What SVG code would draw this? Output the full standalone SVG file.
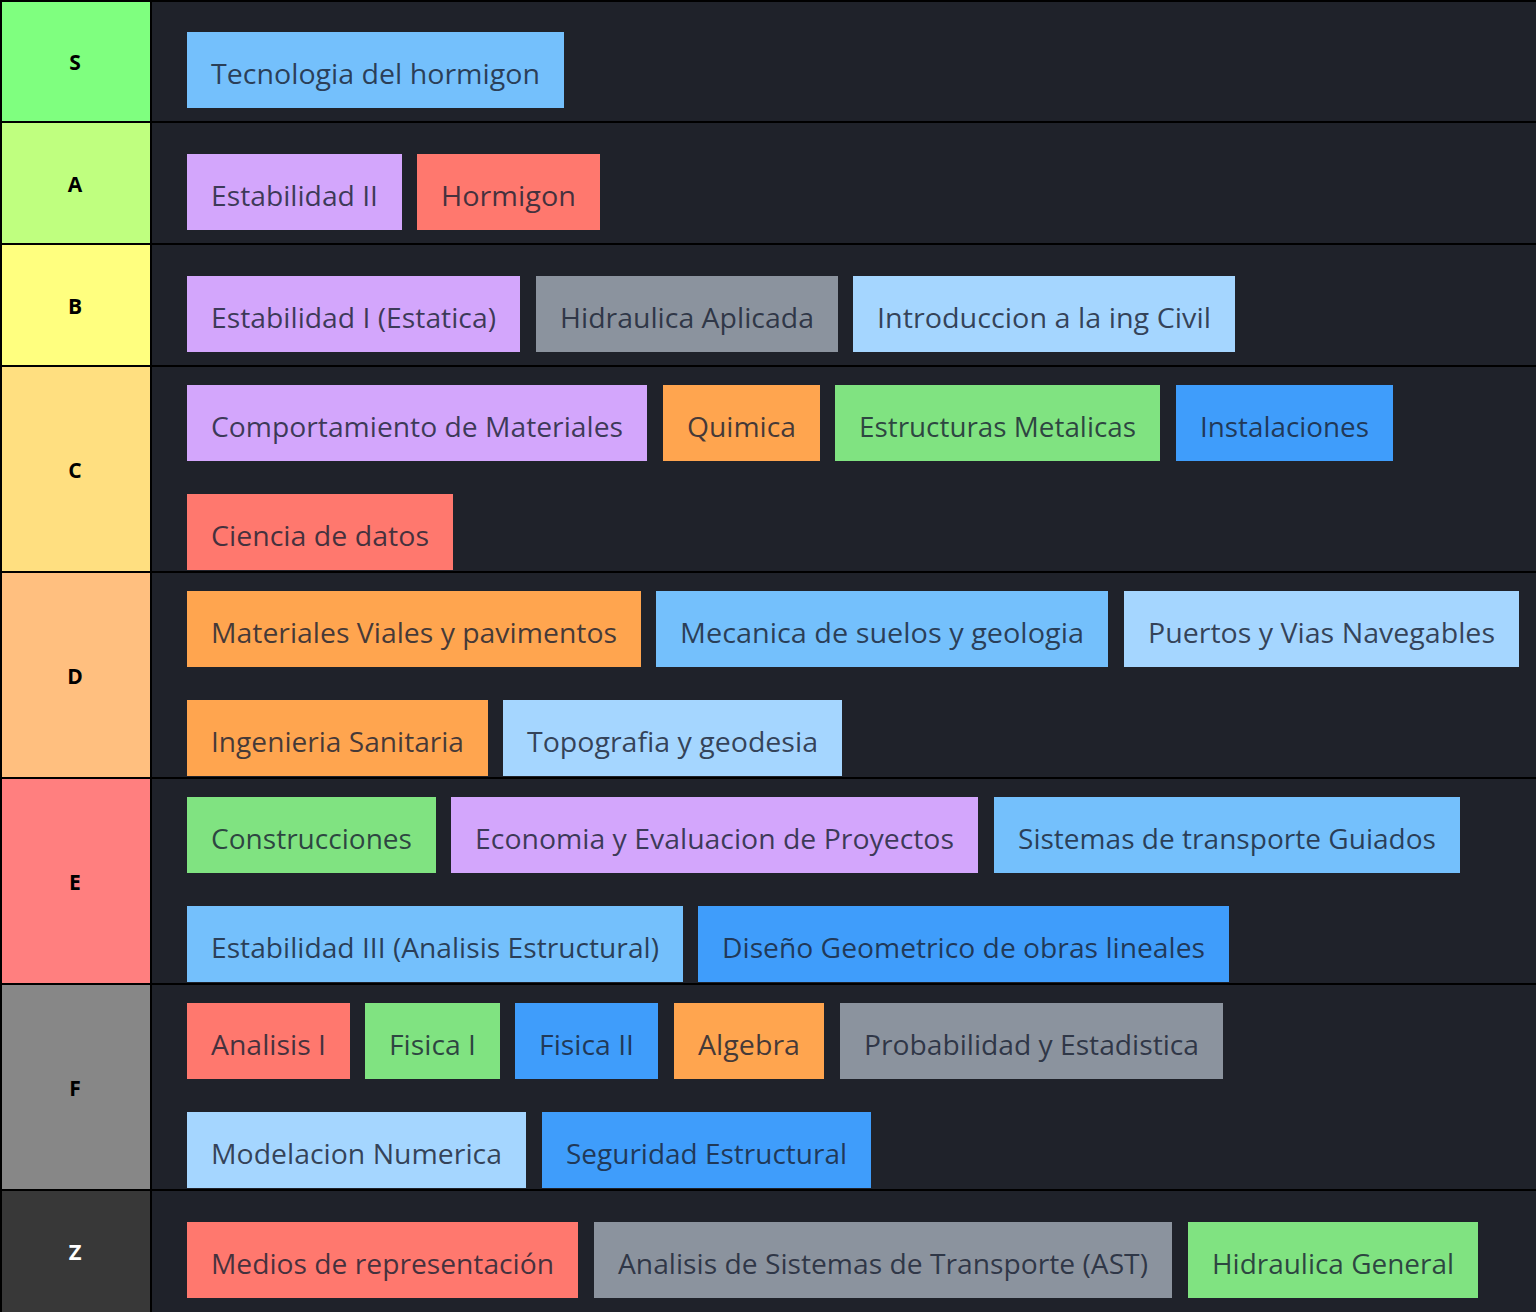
<svg xmlns="http://www.w3.org/2000/svg" width="1536" height="1312" viewBox="0 0 1536 1312">
<style>
.lab{font-family:"Open Sans","Noto Sans",sans-serif;font-weight:bold;font-size:21px;text-anchor:middle;dominant-baseline:central}
.it{font-family:"Open Sans","Noto Sans",sans-serif;font-size:28px;fill:#1a2233;fill-opacity:0.82}
.pu{fill:#d3a6fc}.re{fill:#ff786e}.gr{fill:#8b939e}.lb{fill:#74c0fc}.xb{fill:#a5d6ff}.or{fill:#ffa54f}.gn{fill:#80e381}.bl{fill:#3f9dfb}
.row{fill:#1f222a}
</style>
<rect x="0" y="0" width="1536" height="1312" fill="#000"/>
<g id="tier-S">
<rect x="2" y="2" width="148" height="119" fill="#7fff7f"/><rect class="row" x="152" y="2" width="1384" height="119"/>
<text class="lab" x="75" y="62" fill="#000">S</text>
<g id="item-tecnologia"><rect class="lb" x="187" y="32" width="377" height="76"/><text class="it" x="211" y="84" textLength="329" lengthAdjust="spacingAndGlyphs">Tecnologia del hormigon</text></g>
</g>
<g id="tier-A">
<rect x="2" y="123" width="148" height="120" fill="#bfff7f"/><rect class="row" x="152" y="123" width="1384" height="120"/>
<text class="lab" x="75" y="184" fill="#000">A</text>
<g id="item-estabilidad2"><rect class="pu" x="187" y="154" width="215" height="76"/><text class="it" x="211" y="206" textLength="167" lengthAdjust="spacingAndGlyphs">Estabilidad II</text></g>
<g id="item-hormigon"><rect class="re" x="417" y="154" width="183" height="76"/><text class="it" x="441" y="206" textLength="135" lengthAdjust="spacingAndGlyphs">Hormigon</text></g>
</g>
<g id="tier-B">
<rect x="2" y="245" width="148" height="120" fill="#ffff7f"/><rect class="row" x="152" y="245" width="1384" height="120"/>
<text class="lab" x="75" y="306" fill="#000">B</text>
<g id="item-estabilidad1"><rect class="pu" x="187" y="276" width="333" height="76"/><text class="it" x="211" y="328" textLength="285" lengthAdjust="spacingAndGlyphs">Estabilidad I (Estatica)</text></g>
<g id="item-hidraulica-aplicada"><rect class="gr" x="536" y="276" width="302" height="76"/><text class="it" x="560" y="328" textLength="254" lengthAdjust="spacingAndGlyphs">Hidraulica Aplicada</text></g>
<g id="item-introduccion"><rect class="xb" x="853" y="276" width="382" height="76"/><text class="it" x="877" y="328" textLength="334" lengthAdjust="spacingAndGlyphs">Introduccion a la ing Civil</text></g>
</g>
<g id="tier-C">
<rect x="2" y="367" width="148" height="204" fill="#ffdf80"/><rect class="row" x="152" y="367" width="1384" height="204"/>
<text class="lab" x="75" y="470" fill="#000">C</text>
<g id="item-comportamiento"><rect class="pu" x="187" y="385" width="460" height="76"/><text class="it" x="211" y="437" textLength="412" lengthAdjust="spacingAndGlyphs">Comportamiento de Materiales</text></g>
<g id="item-quimica"><rect class="or" x="663" y="385" width="157" height="76"/><text class="it" x="687" y="437" textLength="109" lengthAdjust="spacingAndGlyphs">Quimica</text></g>
<g id="item-estructuras-metalicas"><rect class="gn" x="835" y="385" width="325" height="76"/><text class="it" x="859" y="437" textLength="277" lengthAdjust="spacingAndGlyphs">Estructuras Metalicas</text></g>
<g id="item-instalaciones"><rect class="bl" x="1176" y="385" width="217" height="76"/><text class="it" x="1200" y="437" textLength="169" lengthAdjust="spacingAndGlyphs">Instalaciones</text></g>
<g id="item-ciencia-datos"><rect class="re" x="187" y="494" width="266" height="76"/><text class="it" x="211" y="546" textLength="218" lengthAdjust="spacingAndGlyphs">Ciencia de datos</text></g>
</g>
<g id="tier-D">
<rect x="2" y="573" width="148" height="204" fill="#ffbf7f"/><rect class="row" x="152" y="573" width="1384" height="204"/>
<text class="lab" x="75" y="676" fill="#000">D</text>
<g id="item-materiales-viales"><rect class="or" x="187" y="591" width="454" height="76"/><text class="it" x="211" y="643" textLength="406" lengthAdjust="spacingAndGlyphs">Materiales Viales y pavimentos</text></g>
<g id="item-mecanica-suelos"><rect class="lb" x="656" y="591" width="452" height="76"/><text class="it" x="680" y="643" textLength="404" lengthAdjust="spacingAndGlyphs">Mecanica de suelos y geologia</text></g>
<g id="item-puertos"><rect class="xb" x="1124" y="591" width="395" height="76"/><text class="it" x="1148" y="643" textLength="347" lengthAdjust="spacingAndGlyphs">Puertos y Vias Navegables</text></g>
<g id="item-ingenieria-sanitaria"><rect class="or" x="187" y="700" width="301" height="76"/><text class="it" x="211" y="752" textLength="253" lengthAdjust="spacingAndGlyphs">Ingenieria Sanitaria</text></g>
<g id="item-topografia"><rect class="xb" x="503" y="700" width="339" height="76"/><text class="it" x="527" y="752" textLength="291" lengthAdjust="spacingAndGlyphs">Topografia y geodesia</text></g>
</g>
<g id="tier-E">
<rect x="2" y="779" width="148" height="204" fill="#ff7f7f"/><rect class="row" x="152" y="779" width="1384" height="204"/>
<text class="lab" x="75" y="882" fill="#000">E</text>
<g id="item-construcciones"><rect class="gn" x="187" y="797" width="249" height="76"/><text class="it" x="211" y="849" textLength="201" lengthAdjust="spacingAndGlyphs">Construcciones</text></g>
<g id="item-economia"><rect class="pu" x="451" y="797" width="527" height="76"/><text class="it" x="475" y="849" textLength="479" lengthAdjust="spacingAndGlyphs">Economia y Evaluacion de Proyectos</text></g>
<g id="item-sistemas-guiados"><rect class="lb" x="994" y="797" width="466" height="76"/><text class="it" x="1018" y="849" textLength="418" lengthAdjust="spacingAndGlyphs">Sistemas de transporte Guiados</text></g>
<g id="item-estabilidad3"><rect class="lb" x="187" y="906" width="496" height="76"/><text class="it" x="211" y="958" textLength="448" lengthAdjust="spacingAndGlyphs">Estabilidad III (Analisis Estructural)</text></g>
<g id="item-diseno-geometrico"><rect class="bl" x="698" y="906" width="531" height="76"/><text class="it" x="722" y="958" textLength="483" lengthAdjust="spacingAndGlyphs">Diseño Geometrico de obras lineales</text></g>
</g>
<g id="tier-F">
<rect x="2" y="985" width="148" height="204" fill="#878787"/><rect class="row" x="152" y="985" width="1384" height="204"/>
<text class="lab" x="75" y="1088" fill="#000">F</text>
<g id="item-analisis1"><rect class="re" x="187" y="1003" width="163" height="76"/><text class="it" x="211" y="1055" textLength="115" lengthAdjust="spacingAndGlyphs">Analisis I</text></g>
<g id="item-fisica1"><rect class="gn" x="365" y="1003" width="135" height="76"/><text class="it" x="389" y="1055" textLength="87" lengthAdjust="spacingAndGlyphs">Fisica I</text></g>
<g id="item-fisica2"><rect class="bl" x="515" y="1003" width="143" height="76"/><text class="it" x="539" y="1055" textLength="95" lengthAdjust="spacingAndGlyphs">Fisica II</text></g>
<g id="item-algebra"><rect class="or" x="674" y="1003" width="150" height="76"/><text class="it" x="698" y="1055" textLength="102" lengthAdjust="spacingAndGlyphs">Algebra</text></g>
<g id="item-probabilidad"><rect class="gr" x="840" y="1003" width="383" height="76"/><text class="it" x="864" y="1055" textLength="335" lengthAdjust="spacingAndGlyphs">Probabilidad y Estadistica</text></g>
<g id="item-modelacion"><rect class="xb" x="187" y="1112" width="339" height="76"/><text class="it" x="211" y="1164" textLength="291" lengthAdjust="spacingAndGlyphs">Modelacion Numerica</text></g>
<g id="item-seguridad"><rect class="bl" x="542" y="1112" width="329" height="76"/><text class="it" x="566" y="1164" textLength="281" lengthAdjust="spacingAndGlyphs">Seguridad Estructural</text></g>
</g>
<g id="tier-Z">
<rect x="2" y="1191" width="148" height="121" fill="#383838"/><rect class="row" x="152" y="1191" width="1384" height="121"/>
<text x="75" y="1260" text-anchor="middle" font-family="Open Sans, Noto Sans, sans-serif" font-weight="bold" font-size="22" fill="white" stroke="none">Z</text>
<g id="item-medios"><rect class="re" x="187" y="1222" width="391" height="76"/><text class="it" x="211" y="1274" textLength="343" lengthAdjust="spacingAndGlyphs">Medios de representación</text></g>
<g id="item-ast"><rect class="gr" x="594" y="1222" width="578" height="76"/><text class="it" x="618" y="1274" textLength="530" lengthAdjust="spacingAndGlyphs">Analisis de Sistemas de Transporte (AST)</text></g>
<g id="item-hidraulica-general"><rect class="gn" x="1188" y="1222" width="290" height="76"/><text class="it" x="1212" y="1274" textLength="242" lengthAdjust="spacingAndGlyphs">Hidraulica General</text></g>
</g>
<g id="connectors"/>
</svg>
